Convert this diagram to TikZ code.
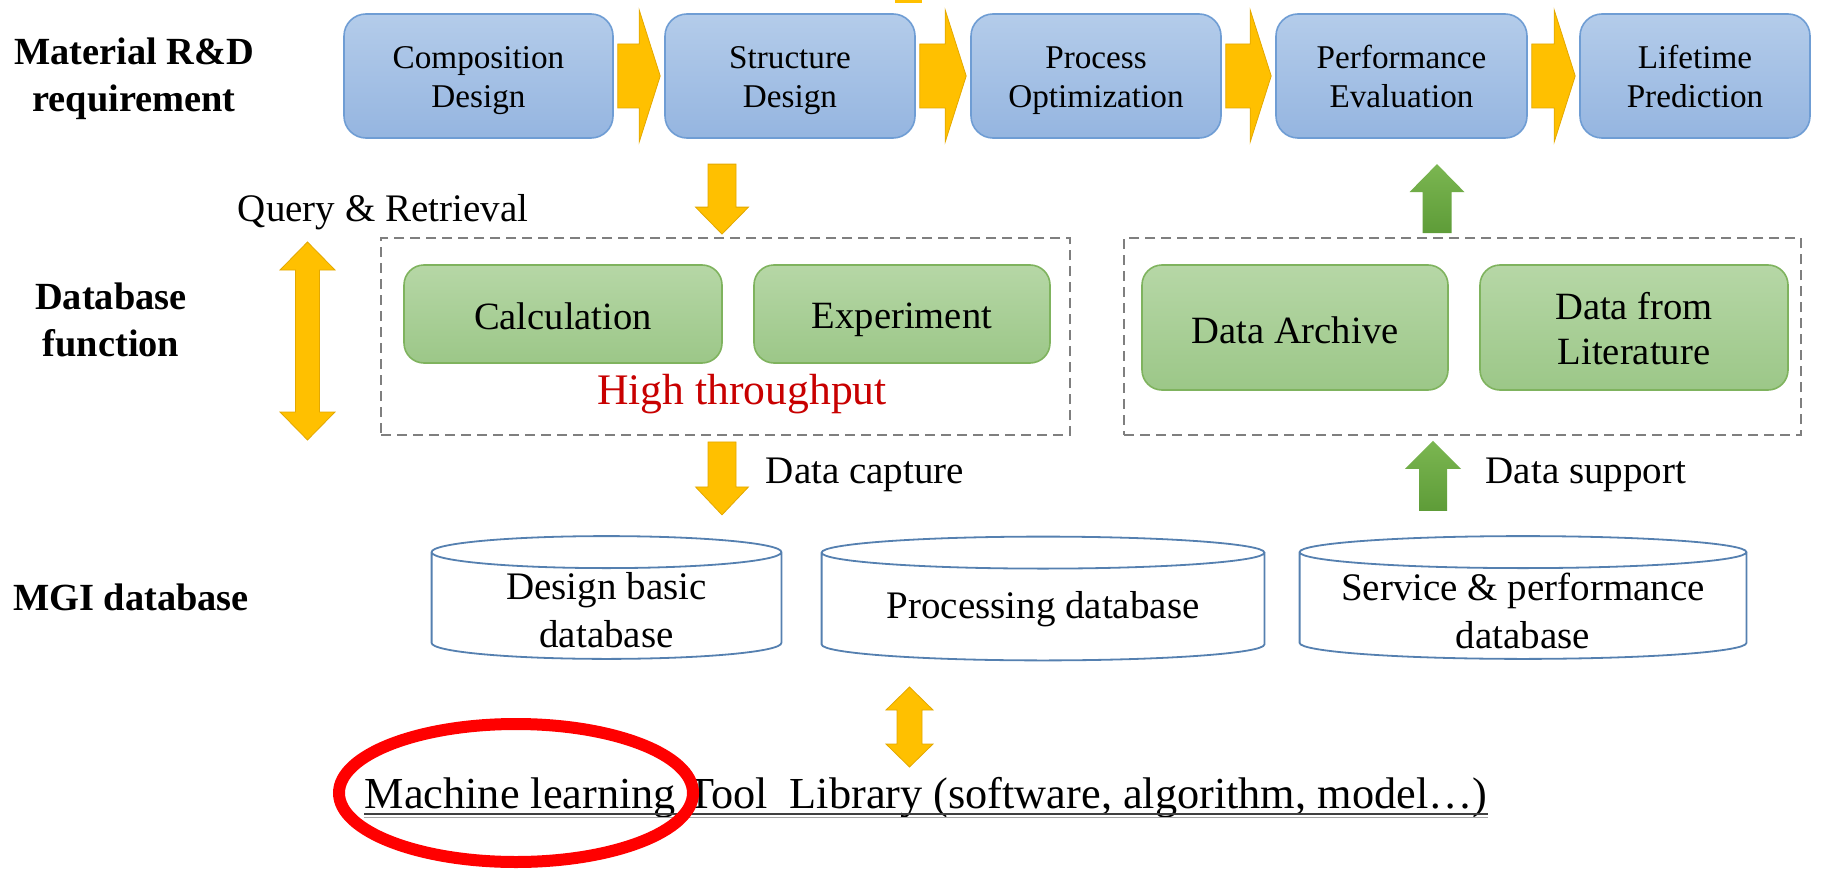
\documentclass[tikz,border=0pt]{standalone}
\usepackage{fontspec}
\setmainfont{Liberation Serif}
\usetikzlibrary{calc}

\definecolor{bluetop}{HTML}{B4CCEA}
\definecolor{bluebot}{HTML}{95B5E0}
\definecolor{blueedge}{HTML}{6F9DD4}
\definecolor{greentop}{HTML}{B6D7A6}
\definecolor{greenbot}{HTML}{9CC788}
\definecolor{greenedge}{HTML}{7FB35E}
\definecolor{amber}{HTML}{FFC000}
\definecolor{amberedge}{HTML}{E3A800}
\definecolor{leaftop}{HTML}{7BB651}
\definecolor{leafbot}{HTML}{5E9C38}
\definecolor{dashgray}{HTML}{7F7F7F}
\definecolor{cylblue}{HTML}{5580B0}
\definecolor{hot}{HTML}{C80000}
\definecolor{ringred}{HTML}{FF0000}

% invisible rules fixing the height of a first line and the depth of a last line
\newcommand\tstr[1]{\rule{0pt}{#1}}
\newcommand\bstr[1]{\rule[-#1]{0pt}{#1}}

% block arrow pointing right: style, start, tip, shaft half-height, head half-height, head length
\newcommand\hblock[6]{%
  \path[#1] let \p1=(#2), \p2=(#3) in
    ({\x1},{\y1+#4}) -- ({\x2-#6},{\y1+#4}) -- ({\x2-#6},{\y1+#5}) -- (\x2,\y2)
    -- ({\x2-#6},{\y1-#5}) -- ({\x2-#6},{\y1-#4}) -- ({\x1},{\y1-#4}) -- cycle;}

% vertical block arrow: style, start, tip, shaft half-width, head half-width, head length
\newcommand\vblock[6]{%
  \path[#1] let \p1=(#2), \p2=(#3), \n1={ifthenelse(\y2>\y1,1,-1)} in
    ({\x1-#4},{\y1}) -- ({\x1-#4},{\y2-\n1*#6}) -- ({\x1-#5},{\y2-\n1*#6}) -- (\x2,\y2)
    -- ({\x1+#5},{\y2-\n1*#6}) -- ({\x1+#4},{\y2-\n1*#6}) -- ({\x1+#4},{\y1}) -- cycle;}

% vertical double-headed block arrow
\newcommand\vdouble[6]{%
  \path[#1] let \p1=(#2), \p2=(#3), \n1={ifthenelse(\y2>\y1,1,-1)} in
    (\x1,\y1) -- ({\x1+#5},{\y1+\n1*#6}) -- ({\x1+#4},{\y1+\n1*#6})
    -- ({\x1+#4},{\y2-\n1*#6}) -- ({\x1+#5},{\y2-\n1*#6}) -- (\x2,\y2)
    -- ({\x1-#5},{\y2-\n1*#6}) -- ({\x1-#4},{\y2-\n1*#6})
    -- ({\x1-#4},{\y1+\n1*#6}) -- ({\x1-#5},{\y1+\n1*#6}) -- cycle;}

% database cylinder drawn on the frame of a named node
\newcommand\drawcyl[1]{%
  \path[cylline] let \p1=(#1.north west), \p2=(#1.south east),
      \n1={0.5*(\x2-\x1)}, \n2={8} in
    ({\x1},{\y1-\n2}) -- ({\x1},{\y2+\n2})
    .. controls ({\x1},{\y2+0.4477*\n2}) and ({\x1+0.4477*\n1},{\y2}) .. ({\x1+\n1},{\y2})
    .. controls ({\x1+1.5523*\n1},{\y2}) and ({\x2},{\y2+0.4477*\n2}) .. ({\x2},{\y2+\n2})
    -- ({\x2},{\y1-\n2})
    ({\x1+\n1},{\y1-\n2}) ellipse [x radius={\n1*1pt}, y radius=8pt];}

\tikzset{
  % fixed height and depth for single-line texts
  tb/.style 2 args={execute at begin node={\rule{0pt}{#1}},
                    execute at end node={\rule[-#2]{0pt}{#2}}},
  lab/.style={align=center, inner sep=0pt, font=\fontsize{19.2pt}{23.5pt}\selectfont\bfseries},
  plain/.style={align=center, inner sep=0pt, font=\fontsize{19.5pt}{24pt}\selectfont},
  bluebox/.style={rectangle, rounded corners=11pt, draw=blueedge, line width=0.8pt,
    top color=bluetop, bottom color=bluebot, minimum height=62pt, inner sep=0pt,
    align=center, font=\fontsize{16.6pt}{19.5pt}\selectfont},
  greenbox/.style={rectangle, rounded corners=10pt, draw=greenedge, line width=0.8pt,
    top color=greentop, bottom color=greenbot, inner sep=0pt,
    align=center, font=\fontsize{19.3pt}{22.75pt}\selectfont},
  dashbox/.style={rectangle, draw=dashgray, line width=0.9pt, dash pattern=on 5pt off 3pt, inner sep=0pt},
  dbshape/.style={rectangle, inner sep=0pt},
  cylline/.style={draw=cylblue, line width=0.9pt},
  yellowarrow/.style={fill=amber, draw=amberedge, line width=0.4pt},
  greenarrow/.style={top color=leaftop, bottom color=leafbot},
}

\begin{document}
\begin{tikzpicture}[x=0.5pt, y=-0.5pt]
\useasboundingbox (0,0) rectangle (1831,872);
\fill[white] (0,0) rectangle (1831,872);

% row labels
\node[lab] (l1) at (134,79) {Material R\&D\\requirement};
\node[lab] (l2) at (111,320) {Database\\function};
\node[lab] (l3) at (131,597) {MGI database};

% R&D chain
\node[bluebox, minimum width=134.5pt] (comp) at (478.5,76) {\tstr{16.5pt}Composition\\Design\bstr{4pt}};
\node[bluebox, minimum width=125pt] (struct) at (790,76) {\tstr{16.5pt}Structure\\Design\bstr{4pt}};
\node[bluebox, minimum width=125pt] (proc) at (1096,76) {\tstr{16.5pt}Process\\Optimization\bstr{4pt}};
\node[bluebox, minimum width=125.5pt] (perf) at (1401.5,76) {\tstr{16.5pt}Performance\\Evaluation\bstr{4pt}};
\node[bluebox, minimum width=115pt] (life) at (1695,76) {\tstr{16.5pt}Lifetime\\Prediction\bstr{4pt}};

\hblock{yellowarrow}{$(comp.east)+(4,0)$}{$(struct.west)+(-4,0)$}{16pt}{33pt}{10.5pt}
\hblock{yellowarrow}{$(struct.east)+(4,0)$}{$(proc.west)+(-4,0)$}{16pt}{33pt}{10.5pt}
\hblock{yellowarrow}{$(proc.east)+(4,0)$}{$(perf.west)+(-4,0)$}{16pt}{33pt}{10.5pt}
\hblock{yellowarrow}{$(perf.east)+(4,0)$}{$(life.west)+(-4,0)$}{16pt}{33pt}{10.5pt}

% incoming shaft at the upper edge
\fill[amber] (895,0) rectangle (922,3);

% database function groups
\node[dashbox, minimum width=344.5pt, minimum height=98.5pt] (hbox) at (725.5,336.5) {};
\node[dashbox, minimum width=338.5pt, minimum height=98.5pt] (dbox) at (1462.5,336.5) {};

\node[greenbox, tb={19pt}{4pt}, minimum width=159pt, minimum height=49pt] (calc) at (563,314) {Calculation};
\node[greenbox, tb={19pt}{4pt}, minimum width=148pt, minimum height=49pt] (expt) at (902,314) {Experiment};
\node[plain, anchor=base, text=hot, font=\fontsize{21.8pt}{26pt}\selectfont] (ht) at (742,404) {High throughput};

\node[greenbox, tb={19.5pt}{4pt}, minimum width=153pt, minimum height=62.5pt] (arch) at (1295,327.5) {Data Archive};
\node[greenbox, minimum width=154pt, minimum height=62.5pt] (lit) at (1634,327.5) {\tstr{18.5pt}Data from\\Literature\bstr{4.25pt}};

\node[plain, anchor=base] (qr) at (383,221) {Query \& Retrieval};
\coordinate (qa) at (307.5,242);
\coordinate (qb) at (307.5,440);
\vdouble{yellowarrow}{qa}{qb}{6pt}{13.75pt}{14pt}

% flow into and out of the groups
\vblock{yellowarrow}{$(hbox.north)+(-3.5,-73)$}{$(hbox.north)+(-3.5,-3)$}{7pt}{13.25pt}{13.5pt}
\vblock{yellowarrow}{$(hbox.south)+(-3.5,6)$}{$(hbox.south)+(-3.5,79)$}{7pt}{13.25pt}{14pt}
\node[plain, anchor=base] (dc) at (865,483) {Data capture};

\vblock{greenarrow}{$(dbox.north)+(-25.5,-4)$}{$(dbox.north)+(-25.5,-73)$}{7.25pt}{13.75pt}{14pt}
\vblock{greenarrow}{$(dbox.south)+(-29.5,75)$}{$(dbox.south)+(-29.5,5)$}{7pt}{14pt}{14pt}
\node[plain, anchor=base] (ds) at (1586,483) {Data support};

% MGI databases
\node[dbshape, minimum width=174.5pt, minimum height=61pt] (db1) at (606.5,597.5) {};
\node[dbshape, minimum width=221pt, minimum height=61.5pt] (db2) at (1043,598.5) {};
\node[dbshape, minimum width=223pt, minimum height=61pt] (db3) at (1523,597.5) {};
\drawcyl{db1}
\drawcyl{db2}
\drawcyl{db3}
\node[plain] (db1t) at ($(db1.center)+(0,13)$) {Design basic\\database};
\node[plain] (db2t) at ($(db2.center)+(0,11)$) {Processing database};
\node[plain] (db3t) at ($(db3.center)+(0,13)$) {Service \& performance\\database};

% tool library
\node[inner sep=0pt, anchor=base, font=\fontsize{22.15pt}{26pt}\selectfont] (tool) at (926,808)
  {Machine learning Tool\ \ Library (software, algorithm, model…)};
\draw[line width=1.4pt, color=black!75] ($(tool.base west)+(0,6)$) -- ($(tool.base east)+(0,6)$);
\draw[line width=0.8pt, color=black!35] ($(tool.base west)+(0,9.5)$) -- ($(tool.base east)+(0,9.5)$);

\coordinate (ta) at (909.5,687);
\coordinate (tb) at (909.5,767);
\vdouble{yellowarrow}{ta}{tb}{6.25pt}{11.75pt}{11.5pt}

% highlight ring
\draw[ringred, line width=6pt] (516,793) ellipse [x radius=88.5pt, y radius=34.5pt];
\end{tikzpicture}
\end{document}
